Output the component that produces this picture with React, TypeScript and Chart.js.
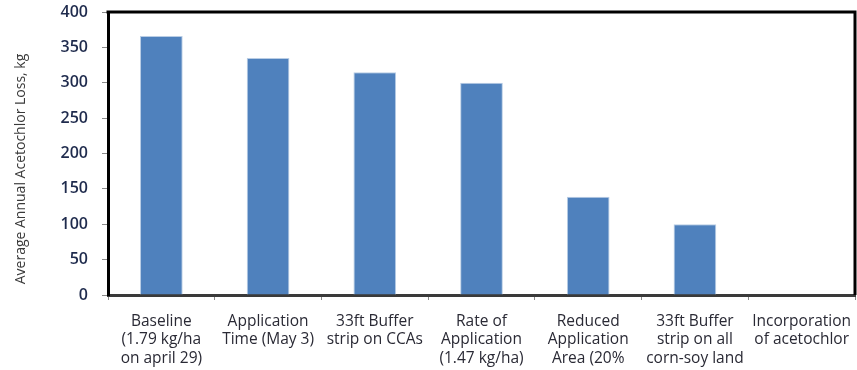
import React, { useEffect, useRef } from "react";
import { Chart, registerables } from "chart.js";

Chart.register(...registerables);

const categories: string[][] = [
  ["Baseline", "(1.79 kg/ha", "on april 29)"],
  ["Application", "Time (May 3)"],
  ["33ft Buffer", "strip on CCAs"],
  ["Rate of", "Application", "(1.47 kg/ha)"],
  ["Reduced", "Application", "Area (20%", "reduction)"],
  ["33ft Buffer", "strip on all", "corn-soy land"],
  ["Incorporation", "of acetochlor"],
];

const lossValues: number[] = [366, 335, 315, 300, 139, 100, 0];

const yTicks: number[] = [0, 50, 100, 150, 200, 250, 300, 350, 400];

const yTitle = "Average Annual Acetochlor Loss, kg";

const FONT = "'Open Sans', Lato, sans-serif";

// Thick frame around the plot area (top and right sides; left/bottom are the axis lines)
// plus the rotated value-axis title.
const framePlugin = {
  id: "frame",
  afterDraw(chart: any) {
    const { ctx, chartArea } = chart;
    ctx.save();
    ctx.strokeStyle = "#000000";
    ctx.lineWidth = 3;
    ctx.beginPath();
    ctx.moveTo(chartArea.left - 1.5, chartArea.top);
    ctx.lineTo(chartArea.right, chartArea.top);
    ctx.lineTo(chartArea.right, chartArea.bottom);
    ctx.stroke();

    ctx.translate(21, 169);
    ctx.rotate(-Math.PI / 2);
    ctx.fillStyle = "#3a3a3a";
    ctx.font = `14px ${FONT}`;
    ctx.textAlign = "center";
    ctx.textBaseline = "middle";
    ctx.fillText(yTitle, 0, 0);
    ctx.restore();
  },
};

export default function App() {
  const canvasRef = useRef<HTMLCanvasElement | null>(null);

  useEffect(() => {
    if (!canvasRef.current) return;
    const chart = new Chart(canvasRef.current, {
      type: "bar",
      data: {
        labels: categories,
        datasets: [
          {
            data: lossValues,
            backgroundColor: "#4f81bd",
            borderColor: "#b9cde5",
            borderWidth: 1,
            barPercentage: 0.8,
            categoryPercentage: 0.5,
          },
        ],
      },
      options: {
        animation: false,
        responsive: true,
        maintainAspectRatio: false,
        layout: { padding: { top: 12, right: 2, left: 0, bottom: 0 } },
        plugins: {
          legend: { display: false },
          tooltip: { enabled: false },
        },
        scales: {
          x: {
            offset: true,
            grid: {
              offset: true,
              drawOnChartArea: false,
              drawTicks: true,
              tickLength: 5,
              color: "#8a8a8a",
            },
            border: { display: true, color: "#3a3a3a", width: 3 },
            ticks: {
              color: "#2a2a35",
              font: { family: FONT, size: 15.5, lineHeight: 1.2 },
              padding: 12,
              maxRotation: 0,
              minRotation: 0,
              autoSkip: false,
            },
            afterFit(scale: any) {
              scale.height = 75;
              scale.paddingLeft = 0;
              scale.paddingRight = 0;
            },
          },
          y: {
            min: 0,
            max: 400,
            afterBuildTicks(scale: any) {
              scale.ticks = yTicks.map((v) => ({ value: v }));
            },
            grid: {
              drawOnChartArea: false,
              drawTicks: true,
              tickLength: 6,
              color: "#8a8a8a",
            },
            border: { display: true, color: "#000000", width: 3 },
            ticks: {
              color: "#1f2b4d",
              font: { family: FONT, size: 16, weight: 600 },
              padding: 14,
            },
            afterFit(scale: any) {
              scale.width = 108;
              scale.paddingTop = 0;
              scale.paddingBottom = 0;
            },
          },
        },
      },
      plugins: [framePlugin],
    });
    return () => chart.destroy();
  }, []);

  return (
    <div
      style={{
        position: "fixed",
        left: 0,
        top: 0,
        width: 857,
        height: 370,
        background: "#ffffff",
      }}
    >
      <canvas ref={canvasRef} />
    </div>
  );
}
